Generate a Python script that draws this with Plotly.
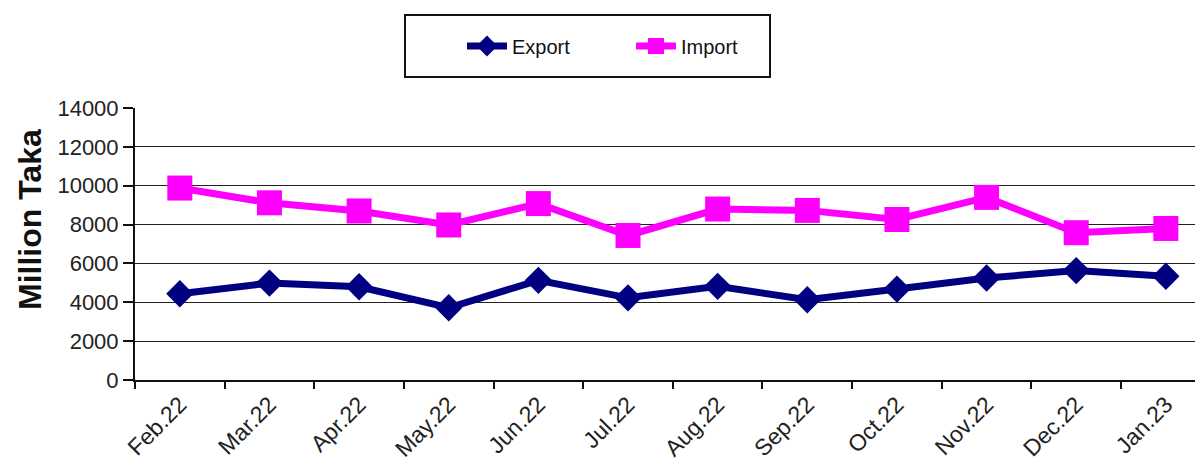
import plotly.graph_objects as go

months = ["Feb.22", "Mar.22", "Apr.22", "May.22", "Jun.22", "Jul.22",
          "Aug.22", "Sep.22", "Oct.22", "Nov.22", "Dec.22", "Jan.23"]
export_vals = [4440, 4990, 4800, 3720, 5130, 4230, 4820, 4130, 4680, 5250, 5630, 5340]
import_vals = [9880, 9120, 8700, 7980, 9080, 7440, 8800, 8730, 8260, 9400, 7580, 7800]
y_ticks = [0, 2000, 4000, 6000, 8000, 10000, 12000, 14000]
y_title = "Million Taka"

OFF = 8  # default page body margin
W, H = 1203 - OFF, 462 - OFF
L, R, T = 135 - OFF, 0, 108 - OFF
ph = 272
B = H - T - ph
pw = W - L - R
spacing = 89.64

def px_x(sx):
    return (sx - OFF - L) / pw

def px_y(sy):
    return (OFF + T + ph - sy) / ph

fig = go.Figure()
fig.add_trace(go.Scatter(
    x=months, y=export_vals, name="Export", mode="lines+markers",
    line=dict(color="#000080", width=7),
    marker=dict(symbol="diamond", size=21, color="#000080"),
))
fig.add_trace(go.Scatter(
    x=months, y=import_vals, name="Import", mode="lines+markers",
    line=dict(color="#FF00FF", width=7),
    marker=dict(symbol="square", size=25, color="#FF00FF"),
))

fig.update_layout(
    width=W, height=H,
    margin=dict(l=L, r=R, t=T, b=B, pad=0),
    paper_bgcolor="white", plot_bgcolor="white",
    font=dict(family="Liberation Sans, Arial, sans-serif", size=15, color="#222"),
    showlegend=True,
    legend=dict(
        orientation="h", x=px_x(462), y=px_y(46), xanchor="left", yanchor="middle",
        font=dict(size=20, color="#111"), bgcolor="rgba(0,0,0,0)",
        itemwidth=40, entrywidth=114, entrywidthmode="pixels",
    ),
    shapes=[dict(
        type="rect", xref="paper", yref="paper",
        x0=px_x(405), x1=px_x(770), y0=px_y(77), y1=px_y(15),
        line=dict(color="#111", width=2), fillcolor="rgba(0,0,0,0)", layer="below",
    )],
    annotations=[dict(
        text="<b>" + y_title + "</b>", textangle=-90, showarrow=False,
        xref="paper", yref="paper", x=px_x(30), y=px_y(220),
        xanchor="center", yanchor="middle",
        font=dict(size=32, color="#111"),
    )],
)

fig.update_xaxes(
    type="category", range=[-0.5, -0.5 + pw / spacing],
    tickson="boundaries", ticks="outside", ticklen=7, tickwidth=2, tickcolor="#111",
    showline=True, linecolor="#111", linewidth=2,
    showgrid=False, tickangle=-45, tickfont=dict(size=23, color="#222"),
)
fig.update_yaxes(
    range=[0, 14000], tickvals=y_ticks, ticktext=[str(v) for v in y_ticks],
    ticks="outside", ticklen=10, tickwidth=2, tickcolor="#111",
    showline=True, linecolor="#111", linewidth=2,
    showgrid=True, gridcolor="#222", gridwidth=1, zeroline=False,
    tickfont=dict(size=22, color="#222"),
)

fig.write_html("out.html")
